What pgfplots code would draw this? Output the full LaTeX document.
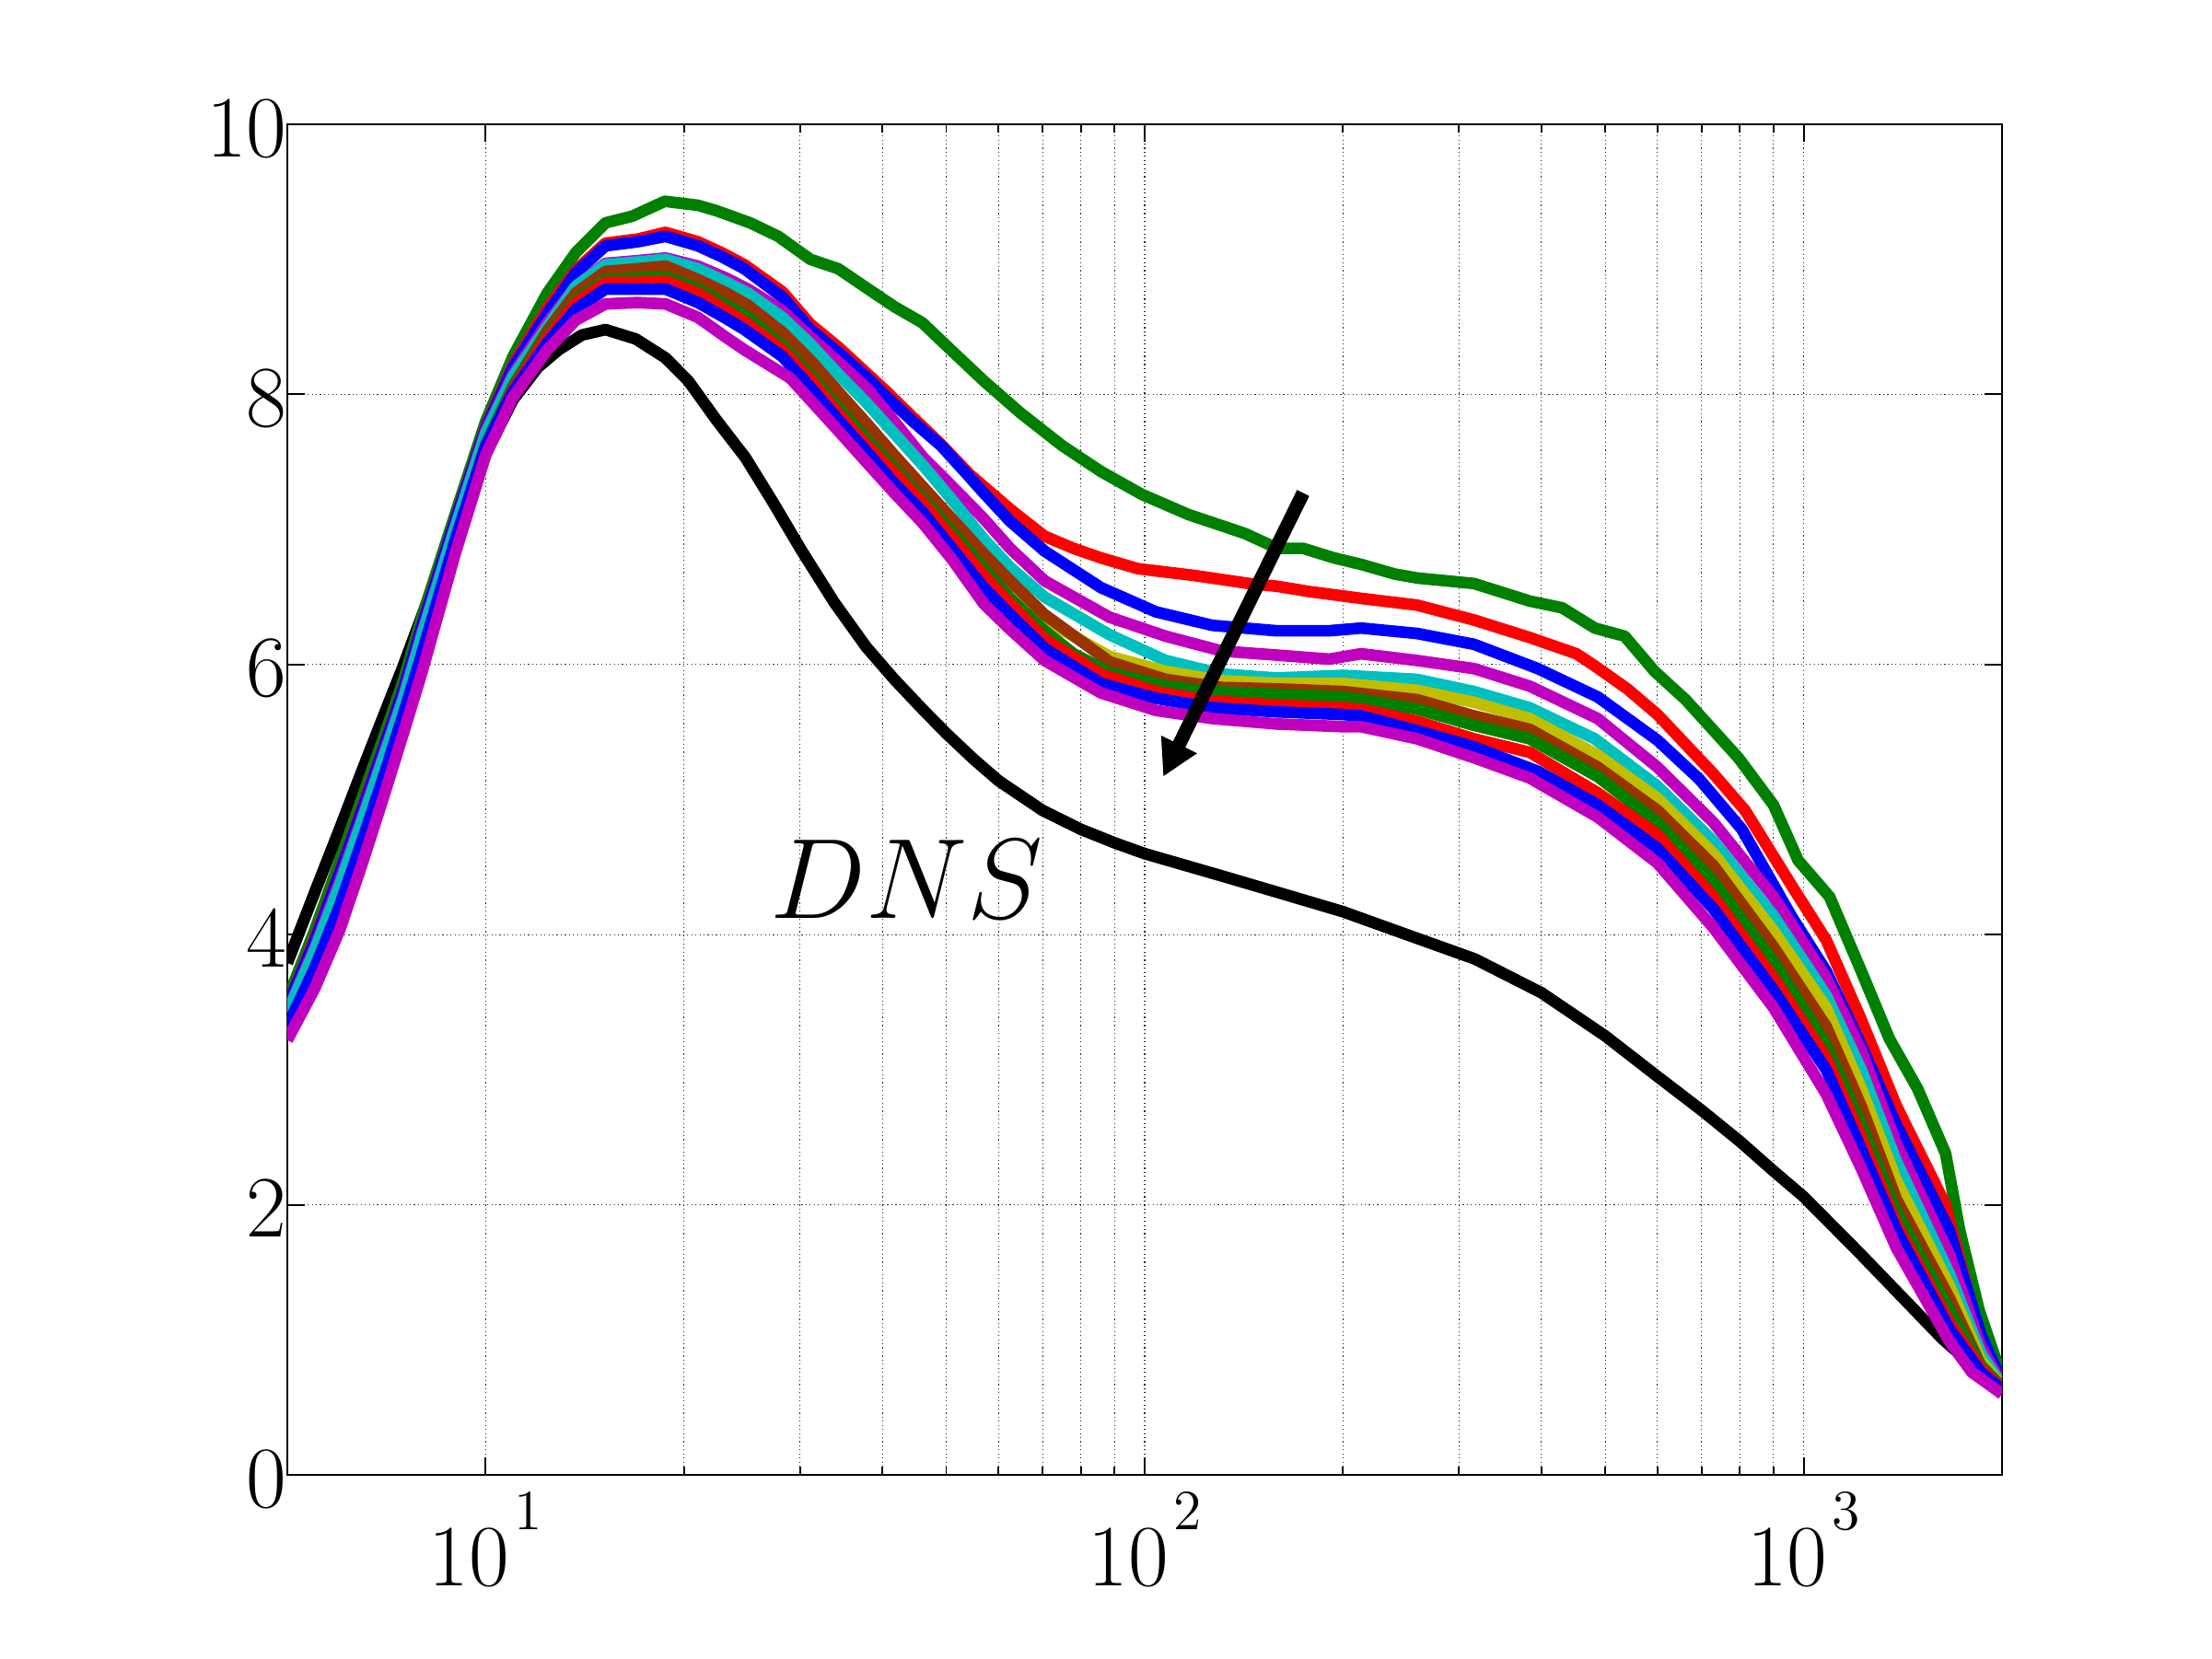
\RequirePackage{fix-cm}
\documentclass[border=0pt]{standalone}
\usepackage{pgfplots}
\pgfplotsset{compat=1.18}
\usetikzlibrary{arrows.meta}
\definecolor{mgreen}{rgb}{0,0.5,0}
\definecolor{mred}{rgb}{1,0,0}
\definecolor{mblue}{rgb}{0,0,1}
\definecolor{mmag}{rgb}{0.75,0,0.75}
\definecolor{mcyan}{rgb}{0,0.75,0.75}
\definecolor{myel}{rgb}{0.75,0.75,0}
\definecolor{mbrown}{rgb}{0.6,0.2,0}
\newcommand{\tp}[1]{10\hspace{0.06em}\raisebox{0.64em}{\fontsize{11.7}{12}\selectfont #1}}
\begin{document}
\begin{tikzpicture}
\path[use as bounding box] (0,0) rectangle (16cm,11.997cm);
\begin{axis}[
  at={(2.078cm,1.3256cm)}, anchor=south west,
  scale only axis, width=12.403cm, height=9.772cm,
  xmode=log, xmin=5, xmax=2000, ymin=0, ymax=10,
  xtick={10,100,1000}, xticklabels={\tp{1},\tp{2},\tp{3}},
  ytick={0,2,4,6,8,10},
  tick label style={font=\fontsize{18}{21}\selectfont},
  yticklabel style={xshift=0.12cm,yshift=-0.03cm},
  xmajorgrids, xminorgrids, ymajorgrids,
  grid style={black!85, line width=0.22pt, dash pattern=on 0.22pt off 0.62pt},
  minor grid style={black!85, line width=0.22pt, dash pattern=on 0.22pt off 0.62pt},
  axis line style={line width=0.35pt},
  every tick/.style={black, line width=0.35pt},
  major tick length=0.125cm, minor tick length=0.06cm,
  tick align=inside,
  every axis plot/.append style={line width=2.4pt, line join=round},
]
% DNS
\addplot[black] coordinates {(5,3.79)(5.5,4.31)(6,4.78)(6.5,5.22)(7,5.62)(7.5,5.99)(8,6.36)(8.6,6.77)(9,7.02)(10,7.56)(11,7.96)(12,8.2)(12.9,8.33)(14,8.44)(15.2,8.48)(16.9,8.41)(18.75,8.27)(20.3,8.10)(22.4,7.81)(24.8,7.53)(27.3,7.20)(30.1,6.85)(33.8,6.46)(37.8,6.13)(41.7,5.89)(46,5.67)(50,5.49)(55,5.30)(60,5.14)(70,4.92)(80,4.78)(90,4.68)(100,4.60)(132,4.43)(160,4.31)(200,4.17)(250,4.0)(317,3.82)(400,3.57)(500,3.25)(600,2.95)(700,2.70)(800,2.47)(900,2.25)(1000,2.06)(1223,1.63)(1383,1.36)(1622,1.01)(1766,0.85)(2000,0.66)};
% green
\addplot[mgreen] coordinates {(5,3.52)(5.5,4.03)(6,4.54)(6.5,5.02)(7,5.46)(7.5,5.88)(8,6.35)(9,7.12)(10,7.80)(11,8.28)(12.4,8.75)(13.7,9.05)(15.2,9.27)(16.7,9.32)(18.7,9.43)(21,9.40)(22.4,9.36)(25.2,9.27)(27.8,9.17)(31.1,9.00)(34.3,8.93)(37.8,8.79)(41.7,8.65)(46,8.53)(50.8,8.33)(57,8.10)(64.9,7.86)(75,7.62)(85.8,7.43)(99,7.26)(116.6,7.11)(142,6.97)(159,6.86)(174,6.86)(193.6,6.79)(213.6,6.74)(239.5,6.67)(259.6,6.64)(316,6.60)(384,6.47)(430,6.42)(482,6.27)(535,6.21)(594,5.95)(662,5.74)(796,5.31)(900,4.96)(981,4.55)(1095,4.28)(1223,3.73)(1349,3.23)(1489,2.86)(1642,2.38)(1725,1.81)(1846,1.22)(2000,0.72)};
% red
\addplot[mred] coordinates {(5,3.47)(5.5,3.97)(6,4.46)(6.5,4.95)(7,5.39)(7.5,5.82)(8,6.29)(9,7.08)(10,7.76)(11,8.22)(12.4,8.64)(13.7,8.92)(15.2,9.12)(17,9.15)(18.75,9.20)(21,9.13)(22.8,9.05)(24.7,8.96)(28.2,8.76)(31.1,8.52)(34.3,8.35)(37.8,8.16)(40.4,8.03)(44.5,7.83)(49.1,7.63)(54.2,7.41)(62.5,7.15)(70.5,6.95)(78,6.86)(85.8,6.79)(97.6,6.71)(118.7,6.66)(144,6.60)(158.6,6.58)(178,6.54)(213,6.49)(259,6.44)(316,6.33)(384,6.20)(452,6.08)(482,5.99)(540,5.82)(600,5.63)(730,5.19)(815,4.92)(957,4.37)(1082,3.96)(1223,3.37)(1383,2.73)(1642,2.00)(1766,1.40)(1857,0.99)(2000,0.67)};
% blue
\addplot[mblue] coordinates {(5,3.47)(5.5,3.95)(6,4.45)(6.5,4.93)(7,5.38)(7.5,5.81)(8,6.28)(9,7.07)(10,7.75)(11,8.20)(12.4,8.60)(13.7,8.90)(15.2,9.10)(17,9.13)(18.75,9.17)(21,9.10)(22.8,9.02)(24.7,8.93)(28.2,8.72)(31.1,8.48)(34.3,8.31)(37.8,8.13)(40.4,7.99)(44.5,7.80)(49.1,7.62)(54.2,7.39)(57,7.27)(62.5,7.06)(70.5,6.84)(85.8,6.57)(104,6.39)(126.7,6.29)(158.6,6.25)(190.5,6.25)(213,6.27)(259,6.23)(316,6.15)(395,5.97)(487,5.76)(600,5.44)(695,5.15)(806,4.78)(957,4.14)(1082,3.73)(1223,3.18)(1383,2.59)(1664,1.81)(1857,1.04)(2000,0.69)};
% magenta
\addplot[mmag] coordinates {(5,3.43)(5.5,3.90)(6,4.39)(6.5,4.87)(7,5.33)(7.5,5.76)(8,6.23)(9,7.03)(10,7.73)(11,8.15)(12.4,8.53)(13.7,8.80)(15.2,8.97)(17,8.99)(18.75,9.01)(21,8.95)(23.2,8.86)(25,8.78)(28.2,8.62)(31,8.43)(34.3,8.24)(37.8,8.05)(41.7,7.80)(46,7.54)(51,7.32)(57,7.08)(62.5,6.86)(70.5,6.62)(88.5,6.35)(107.6,6.21)(131,6.10)(158.6,6.07)(190.5,6.04)(213,6.08)(259,6.03)(316,5.97)(384,5.84)(487,5.60)(600,5.24)(730,4.83)(900,4.28)(1082,3.68)(1223,3.14)(1383,2.45)(1664,1.63)(1857,0.95)(2000,0.67)};
% cyan
\addplot[mcyan] coordinates {(5,3.42)(5.5,3.88)(6,4.36)(6.5,4.85)(7,5.31)(7.5,5.74)(8,6.21)(9,7.02)(10,7.71)(11,8.13)(12.4,8.50)(13.7,8.80)(15.2,8.96)(17,8.98)(18.75,9.00)(21,8.93)(23.2,8.83)(25,8.75)(28.2,8.57)(31,8.38)(34.3,8.15)(37.8,7.94)(41.7,7.71)(46,7.48)(51,7.22)(57,6.93)(62.5,6.72)(70.5,6.50)(88.5,6.22)(107.6,6.03)(131,5.93)(158.6,5.90)(200,5.92)(259,5.89)(316,5.80)(384,5.68)(482,5.45)(600,5.10)(730,4.69)(900,4.14)(1082,3.55)(1223,3.00)(1383,2.32)(1664,1.49)(1857,0.90)(2000,0.66)};
% yellow
\addplot[myel] coordinates {(5,3.25)(5.5,3.64)(6,4.08)(6.5,4.58)(7,5.06)(7.5,5.53)(8,5.98)(9,6.86)(10,7.58)(11,8.04)(12.4,8.44)(13.7,8.72)(15.2,8.88)(17,8.90)(18.75,8.92)(21,8.82)(23.2,8.71)(25,8.62)(28.2,8.42)(31,8.22)(34.3,7.98)(37.8,7.75)(41.7,7.51)(46,7.28)(51,7.04)(57,6.76)(62.5,6.56)(70.5,6.33)(88.5,6.06)(107.6,5.95)(131,5.88)(158.6,5.86)(200,5.86)(259,5.81)(316,5.72)(384,5.60)(487,5.33)(600,5.01)(730,4.60)(900,4.03)(1082,3.46)(1223,2.86)(1383,2.18)(1664,1.40)(1857,0.85)(2000,0.65)};
% brown
\addplot[mbrown] coordinates {(5,3.30)(5.5,3.71)(6,4.16)(6.5,4.65)(7,5.13)(7.5,5.59)(8,6.04)(9,6.90)(10,7.61)(11,8.06)(12.4,8.47)(13.7,8.75)(15.2,8.91)(17,8.93)(18.75,8.95)(21,8.85)(23.2,8.75)(25,8.66)(28.2,8.46)(31,8.26)(34.3,8.02)(37.8,7.79)(41.7,7.55)(46,7.32)(51,7.08)(57,6.82)(62.5,6.62)(70.5,6.37)(88.5,6.02)(107.6,5.89)(131,5.83)(158.6,5.82)(200,5.80)(259,5.74)(316,5.62)(384,5.52)(487,5.24)(600,4.92)(730,4.51)(900,3.91)(1082,3.32)(1223,2.73)(1383,2.04)(1664,1.31)(1857,0.81)(2000,0.65)};
% green 2
\addplot[mgreen] coordinates {(5,3.31)(5.5,3.73)(6,4.18)(6.5,4.68)(7,5.15)(7.5,5.61)(8,6.06)(9,6.92)(10,7.63)(11,8.06)(12.4,8.44)(13.7,8.70)(15.2,8.85)(17,8.86)(18.75,8.87)(21,8.78)(23.2,8.66)(25,8.57)(28.2,8.36)(31,8.15)(34.3,7.90)(37.8,7.67)(41.7,7.45)(46,7.23)(51,6.98)(57,6.71)(62.5,6.49)(70.5,6.25)(78,6.08)(88.5,5.94)(107.6,5.84)(126.7,5.80)(158.6,5.78)(200,5.76)(213,5.74)(259,5.67)(316,5.55)(384,5.45)(487,5.17)(600,4.83)(730,4.39)(900,3.80)(1082,3.18)(1223,2.59)(1383,1.95)(1664,1.22)(1857,0.81)(2000,0.65)};
% red 2
\addplot[mred] coordinates {(5,3.28)(5.5,3.69)(6,4.13)(6.5,4.63)(7,5.11)(7.5,5.57)(8,6.02)(9,6.89)(10,7.60)(11,8.04)(12.4,8.42)(13.7,8.68)(15.2,8.83)(17,8.83)(18.75,8.84)(21,8.75)(23.2,8.62)(24.7,8.54)(28.2,8.33)(31,8.12)(34.3,7.86)(37.8,7.63)(41.7,7.42)(46,7.20)(51,6.94)(57,6.66)(62.5,6.45)(70.5,6.19)(85.8,5.93)(104,5.80)(126.7,5.73)(158.6,5.70)(200,5.68)(213,5.67)(259,5.58)(316,5.45)(384,5.35)(487,5.05)(600,4.74)(730,4.28)(900,3.68)(1082,3.09)(1223,2.50)(1383,1.86)(1664,1.13)(1857,0.79)(2000,0.64)};
% blue 2
\addplot[mblue] coordinates {(5,3.32)(5.5,3.75)(6,4.21)(6.5,4.70)(7,5.17)(7.5,5.63)(8,6.08)(9,6.93)(10,7.62)(11,8.02)(12.4,8.38)(13.7,8.63)(15.2,8.78)(17,8.78)(18.75,8.78)(21,8.68)(23.2,8.56)(24.7,8.48)(28.2,8.28)(31,8.06)(34.3,7.81)(37.8,7.58)(41.7,7.34)(46,7.13)(51,6.86)(57,6.57)(62.5,6.37)(70.5,6.12)(85.8,5.86)(104,5.75)(126.7,5.68)(158.6,5.65)(200,5.63)(213,5.62)(259,5.51)(316,5.39)(395,5.21)(487,4.96)(600,4.64)(730,4.19)(900,3.59)(1082,3.00)(1223,2.41)(1383,1.81)(1664,1.08)(1857,0.76)(2000,0.63)};
% magenta 2
\addplot[mmag] coordinates {(5,3.22)(5.5,3.60)(6,4.03)(6.5,4.53)(7,5.02)(7.5,5.49)(8,5.94)(9,6.83)(10,7.55)(11,7.98)(12.4,8.33)(13.7,8.55)(15.2,8.67)(17,8.68)(18.75,8.67)(21,8.57)(23.2,8.42)(24.7,8.33)(29,8.12)(34.3,7.73)(37.8,7.50)(41.7,7.27)(46,7.05)(51,6.78)(57,6.45)(62.5,6.26)(70.5,6.03)(85.8,5.79)(104,5.66)(126.7,5.60)(158.6,5.56)(200,5.54)(213,5.54)(259,5.45)(316,5.31)(384,5.16)(487,4.87)(600,4.53)(730,4.05)(900,3.46)(1082,2.82)(1223,2.27)(1383,1.68)(1664,0.99)(1800,0.76)(2000,0.60)};
\draw[black, line width=2.8pt, -{Triangle[width=0.27cm,length=0.26cm]}] (axis cs:174,7.27) -- (axis cs:106.7,5.17);
\node[anchor=base, inner sep=0pt, font=\fontsize{23.5}{28}\selectfont] at (axis cs:43.5,4.12) {$DNS$};
\end{axis}
\end{tikzpicture}
\end{document}
